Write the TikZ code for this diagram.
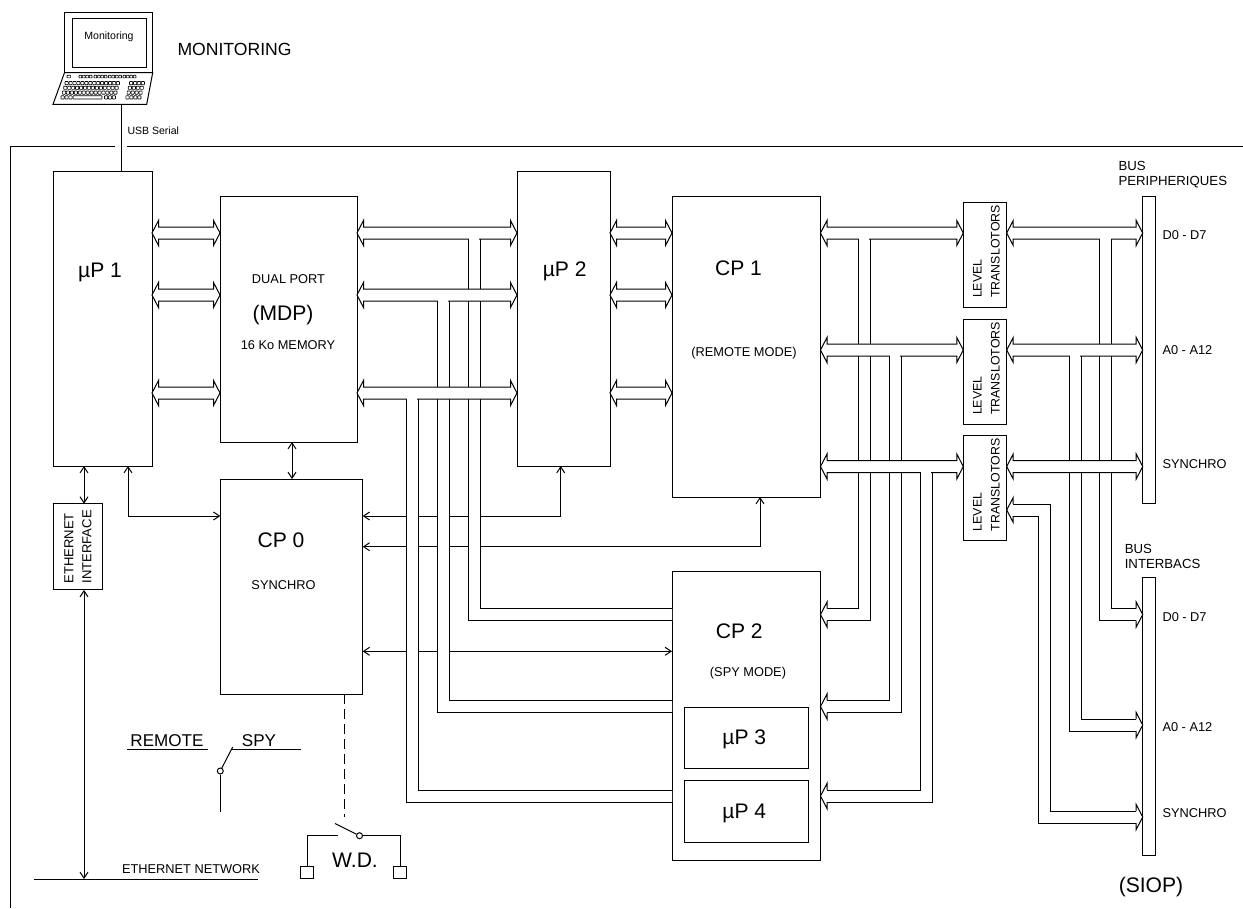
\documentclass[tikz,border=0pt]{standalone}
\usepackage{fontspec}
\setmainfont{Liberation Sans}
\usetikzlibrary{arrows.meta, calc}
\newdimen\px
\px=0.75pt

% double outline bus, tip at each end
\newcommand{\hbus}[2]{%
    \fill[white] (#1) -- ($(#1)+(6.5,-12.5)$) -- ($(#1)+(6.5,-6)$) -- ($(#2)+(-6.5,-6)$) -- ($(#2)+(-6.5,-12.5)$) -- (#2)
        -- ($(#2)+(-6.5,12.5)$) -- ($(#2)+(-6.5,6)$) -- ($(#1)+(6.5,6)$) -- ($(#1)+(6.5,12.5)$) -- cycle;
    \draw[busline] (#1) -- ($(#1)+(6.5,-12.5)$) -- ($(#1)+(6.5,-6)$) -- ($(#2)+(-6.5,-6)$) -- ($(#2)+(-6.5,-12.5)$) -- (#2)
        -- ($(#2)+(-6.5,12.5)$) -- ($(#2)+(-6.5,6)$) -- ($(#1)+(6.5,6)$) -- ($(#1)+(6.5,12.5)$) -- cycle;
}
% branch: start, end, direction, how far it stops short of the end
\newcommand{\busbranch}[4]{%
    \fill[white] ($(#1)+(-6,0)$) |- ($(#2)+({#3*(-#4)},6)$) -- ($(#2)+({#3*(-#4)},-6)$) -| ($(#1)+(6,0)$) -- cycle;
    \draw[busline] ($(#1)+({#3*6},0)$) |- ($(#2)+({#3*(-#4)},-6)$);
    \draw[busline] ($(#1)+({#3*(-6)},0)$) |- ($(#2)+({#3*(-#4)},6)$);
}
\newcommand{\bustip}[2]{%
    \filldraw[busline, fill=white] ($(#1)+({#2*(-6.5)},-6)$) -- ($(#1)+({#2*(-6.5)},-12.5)$) -- (#1) -- ($(#1)+({#2*(-6.5)},12.5)$) -- ($(#1)+({#2*(-6.5)},6)$);
}
\newcommand{\busplug}[1]{%
    \fill[white] ($(#1)+(-5.4,-1.2)$) rectangle ($(#1)+(5.4,1.2)$);
}

\begin{document}
\begin{tikzpicture}[
    x=0.75pt, y=-0.75pt,
    >={Straight Barb[length=4.5pt,width=6pt]},
    line width=0.75pt,
    blk/.style={draw, inner sep=0pt, outer sep=0pt},
    busline/.style={line width=0.75pt, line join=miter},
    keycap/.style={line width=0.5pt, rounded corners=0.4pt},
    lbl/.style={inner sep=0pt, text depth=0pt},
    big/.style={lbl, text height=11.4pt, font=\fontsize{15.8}{18}\selectfont},
    small/.style={lbl, text height=6.9pt, font=\fontsize{9.6}{12}\selectfont},
    wee/.style={lbl, text height=5.7pt, font=\fontsize{7.9}{10}\selectfont},
    tiny/.style={font=\fontsize{9.3}{13.5}\selectfont, rotate=90, align=left, anchor=center, inner sep=0pt},
]
    \useasboundingbox (0,0) rectangle (1243,908);

    % Frame
    \coordinate (frameL) at (10,908);
    \coordinate (frameA) at (10,146.5);
    \coordinate (frameB) at (115,146.5);
    \coordinate (frameC) at (127,146.5);
    \coordinate (frameD) at (1243,146.5);
    \draw (frameL) -- (frameA) -- (frameB);
    \draw (frameC) -- (frameD);

    % Laptop
    \node[blk, minimum width=87.5\px, minimum height=60.5\px] (screen) at (108.7,42.4) {};
    \node[blk, minimum width=74\px, minimum height=49\px] (panel) at (109,42.5) {};
    \node[wee] (tpanel) at (109,36) {Monitoring};
    \draw (64.5,72.7) -- (152.7,72.7) -- (146.7,104.3) -- (53,104.3) -- cycle;
    \draw[line width=1pt] (53,104.3) -- (146.7,104.3);
    \draw[keycap] (67,75.3) rectangle ++(3.6,2.6);
    \foreach \g in {79,94,108.5,123} {
        \foreach \k in {0,1,2,3} {
            \draw[keycap] ({\g+\k*3.4},75.3) rectangle ++(2.8,2.6);
        }
    }
    \foreach \r/\y in {0/81.5,1/86.2,2/91,3/95.8} {
        \ifnum\r<3
            \foreach \k in {0,...,13} {
                \draw[keycap] ({65-\r*1.3+\k*3.95},\y) rectangle ++(3.2,3.2);
            }
        \fi
        \foreach \k in {0,1,2,3} {
            \draw[keycap] ({129.5-\r*1.2+\k*3.95},\y) rectangle ++(3.2,3.2);
        }
    }
    \foreach \k in {0,1,2,11,12,13} {
        \draw[keycap] ({61+\k*3.95},95.8) rectangle ++(3.2,3.2);
    }
    \draw[keycap] (73,95.8) rectangle ++(29,3.2);

    \node[lbl, text height=9.5pt, font=\fontsize{13.2}{16}\selectfont, anchor=west] (tmon) at (177,49) {MONITORING};
    \node[wee, anchor=west] (tusb) at (127,131) {USB Serial};

    % Main blocks
    \node[blk, minimum width=99\px, minimum height=295\px] (up1) at (102.5,318.5) {};
    \node[blk, minimum width=137\px, minimum height=246\px] (mdp) at (288.5,319) {};
    \node[blk, minimum width=93\px, minimum height=295\px] (up2) at (563.5,318.5) {};
    \node[blk, minimum width=148.5\px, minimum height=301\px] (cp1) at (746.25,346.5) {};
    \node[blk, minimum width=142.4\px, minimum height=215\px] (cp0) at (291.5,586.5) {};
    \node[blk, minimum width=148.5\px, minimum height=289\px] (cp2) at (746.25,715.5) {};
    \node[blk, minimum width=124\px, minimum height=61\px] (up3) at (746,737.5) {};
    \node[blk, minimum width=124\px, minimum height=62\px] (up4) at (746,811) {};
    \node[blk, minimum width=49.4\px, minimum height=86.3\px] (eth) at (78,546.8) {};
    \node[blk, minimum width=43.4\px, minimum height=104.7\px] (lt1) at (985,254.7) {};
    \node[blk, minimum width=43.4\px, minimum height=104.7\px] (lt2) at (985,371.7) {};
    \node[blk, minimum width=43.4\px, minimum height=104.7\px] (lt3) at (985,488.2) {};
    \node[blk, minimum width=12.6\px, minimum height=307\px] (per) at (1149,349.8) {};
    \node[blk, minimum width=12.6\px, minimum height=278\px] (ibc) at (1149,716.3) {};

    % Labels
    \node[big] (tup1) at (100,270) {µP 1};
    \node[small] (tdual) at (288.5,278.7) {DUAL PORT};
    \node[big] (tmdp) at (283,312.7) {(MDP)};
    \node[small] (tmem) at (288,345.3) {16 Ko MEMORY};
    \node[big] (tup2) at (564.7,269) {µP 2};
    \node[big] (tcp1) at (738.5,268.3) {CP 1};
    \node[small] (tcp1b) at (744,351.7) {(REMOTE MODE)};
    \node[big] (tcp0) at (281,540) {CP 0};
    \node[small] (tcp0b) at (283.5,585) {SYNCHRO};
    \node[big] (tcp2) at (739.3,631) {CP 2};
    \node[small] (tcp2b) at (748,671.7) {(SPY MODE)};
    \node[big] (tup3) at (744.3,736.7) {µP 3};
    \node[big] (tup4) at (744.3,811) {µP 4};
    \node[tiny, font=\fontsize{9.8}{13.5}\selectfont] (teth) at (78,546.8) {ETHERNET\\INTERFACE};
    \foreach \n/\y in {lt1/251.5,lt2/368.5,lt3/485} {
        \node[tiny] (t\n) at (986.5,\y) {LEVEL\\TRANSLOTORS};
    }
    \node[small, anchor=west] (td1) at (1162,234.7) {D0 - D7};
    \node[small, anchor=west] (ta1) at (1162,349.5) {A0 - A12};
    \node[small, anchor=west] (ts1) at (1162,463.5) {SYNCHRO};
    \node[small, anchor=west] (td2) at (1162,617) {D0 - D7};
    \node[small, anchor=west] (ta2) at (1162,727) {A0 - A12};
    \node[small, anchor=west] (ts2) at (1162,813.3) {SYNCHRO};
    \node[inner sep=0pt, anchor=west, align=left, font=\fontsize{9.9}{11.25}\selectfont] (tper) at (1118,175) {BUS\\PERIPHERIQUES};
    \node[inner sep=0pt, anchor=west, align=left, font=\fontsize{9.9}{11.25}\selectfont] (tibc) at (1124.3,556) {BUS\\INTERBACS};
    \node[big] (tsiop) at (1151,885) {(SIOP)};

    % Single lines
    \draw[<->] (mdp.south -| 292,0) -- (cp0.north -| 292,0);
    \draw[<->] (up1.south -| 84,0) -- (eth.north -| 84,0);
    \draw[<->] (eth.south -| 84,0) -- (84,879);
    \draw[<->] (up1.south -| 128,0) |- (cp0.west |- 0,516);
    \draw[<->] (cp0.east |- 0,516) -| (up2.south -| 560.7,0);
    \draw[<->] (cp0.east |- 0,546.7) -| (cp1.south -| 760,0);
    \draw[<->] (cp0.east |- 0,651.3) -- (cp2.west |- 0,651.3);
    \draw (121,104.3) -- (up1.north -| 121,0);

    % Buses going down to CP 2 and to the interbacs bus
    \busbranch{474,239.3}{cp2.west |- 0,614.5}{1}{0}
    \busbranch{443,301.3}{cp2.west |- 0,706.5}{1}{0}
    \busbranch{412,399.3}{cp2.west |- 0,796}{1}{0}
    \busbranch{864,239.3}{cp2.east |- 0,614.5}{-1}{6.5}
    \busbranch{895,356.3}{cp2.east |- 0,706.5}{-1}{6.5}
    \busbranch{926,472.8}{cp2.east |- 0,796}{-1}{6.5}
    \busbranch{1105.5,239.3}{ibc.west |- 0,614.5}{1}{6.5}
    \busbranch{1075,356.3}{ibc.west |- 0,725}{1}{6.5}

    % Link from the third translator to SYNCHRO
    \coordinate (ltb) at (lt3.east |- 0,510);
    \coordinate (ibb) at (ibc.west |- 0,817);
    \draw[busline] ($(ltb)+(6.5,-6)$) -- (1050,504) -- (1050,811) -- ($(ibb)+(-6.5,-6)$);
    \draw[busline] ($(ltb)+(6.5,6)$) -- (1038,516) -- (1038,823) -- ($(ibb)+(-6.5,6)$);

    % Horizontal buses
    \foreach \y in {233,295,393} {
        \hbus{up1.east |- 0,\y}{mdp.west |- 0,\y}
        \hbus{mdp.east |- 0,\y}{up2.west |- 0,\y}
        \hbus{up2.east |- 0,\y}{cp1.west |- 0,\y}
    }
    \foreach \n/\y in {lt1/233,lt2/350,lt3/466.5} {
        \hbus{cp1.east |- 0,\y}{\n.west |- 0,\y}
        \hbus{\n.east |- 0,\y}{per.west |- 0,\y}
    }
    \foreach \x/\y in {474/239,443/301,412/399,864/239,895/356,926/472.5,1105.5/239,1075/356} {
        \busplug{\x,\y}
    }
    \bustip{cp2.east |- 0,614.5}{-1}
    \bustip{cp2.east |- 0,706.5}{-1}
    \bustip{cp2.east |- 0,796}{-1}
    \bustip{ibc.west |- 0,614.5}{1}
    \bustip{ibc.west |- 0,725}{1}
    \bustip{ibb}{1}
    \bustip{ltb}{-1}

    % Switches
    \draw (127,749.7) -- (208,749.7);
    \draw (231,749.7) -- (301,749.7);
    \node[inner sep=0pt, font=\fontsize{12.8}{15}\selectfont, anchor=base] (trem) at (167,746.5) {REMOTE};
    \node[inner sep=0pt, font=\fontsize{12.8}{15}\selectfont, anchor=base] (tspy) at (259,746.5) {SPY};
    \node[draw, circle, inner sep=0pt, minimum size=6\px] (swa) at (220.3,771) {};
    \coordinate (swb) at (232.7,747);
    \coordinate (swc) at (220.3,811.5);
    \draw (swa) -- (swb);
    \draw (swa) -- (swc);

    \coordinate (wdtop) at (344.3,817);
    \draw[dash pattern=on 7.5pt off 3.75pt] (cp0.south -| wdtop) -- (wdtop);
    \node[draw, circle, inner sep=0pt, minimum size=6\px] (wda) at (359.5,835.7) {};
    \coordinate (wdb) at (335,823.5);
    \draw (wda) -- (wdb);
    \node[blk, minimum width=13\px, minimum height=12.5\px] (wdl) at (307,872.7) {};
    \node[blk, minimum width=13\px, minimum height=12.5\px] (wdr) at (400,872.7) {};
    \draw (wda) -| (wdr);
    \coordinate (wdc) at (338,835.7);
    \draw (wdc) -| (wdl);
    \node[big] (twd) at (355,860) {W.D.};

    % Network
    \coordinate (netl) at (34,879);
    \coordinate (netr) at (258,879);
    \draw (netl) -- (netr);
    \node[small] (tnet) at (191,868.7) {ETHERNET NETWORK};
\end{tikzpicture}
\end{document}
